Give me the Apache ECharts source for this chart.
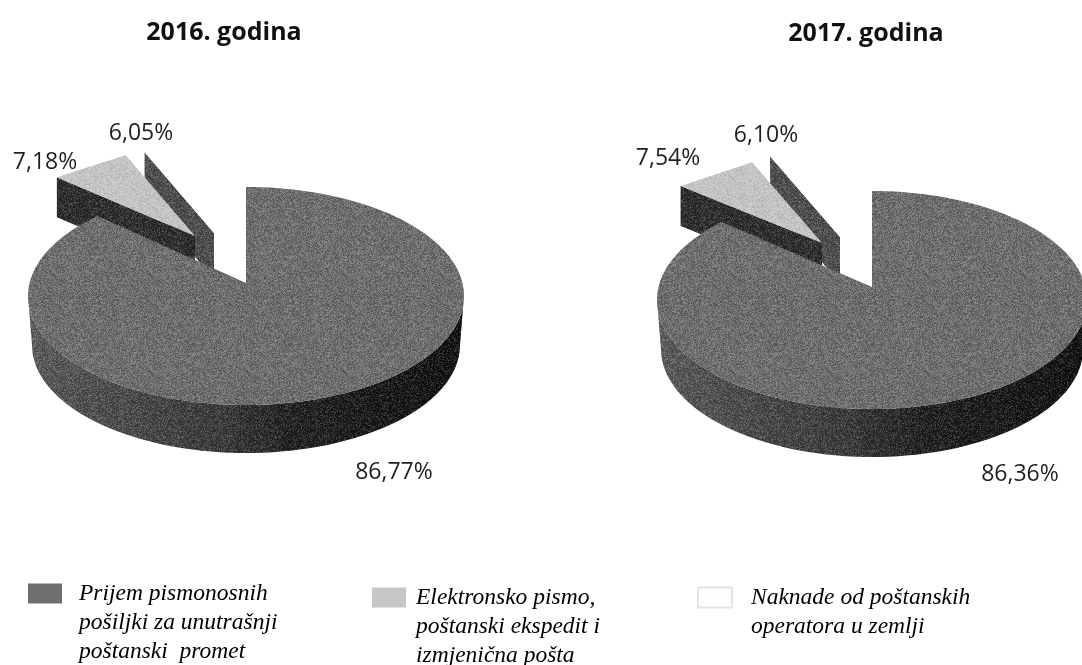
<!DOCTYPE html>
<html>
<head>
<meta charset="utf-8">
<style>
  html, body { margin: 0; padding: 0; background: #fff; }
  #chart { width: 1082px; height: 665px; }
</style>
<script src="https://cdn.jsdelivr.net/npm/echarts@6/dist/echarts.min.js"></script>
</head>
<body>
<div id="chart"></div>
<script>
const godine = ['2016. godina', '2017. godina'];
const kategorije = [
  'Prijem pismonosnih\npošiljki za unutrašnji\npoštanski  promet',
  'Elektronsko pismo,\npoštanski ekspedit i\nizmjenična pošta',
  'Naknade od poštanskih\noperatora u zemlji'
];
const prijem = [86.77, 86.36];
const elektronsko = [7.18, 7.54];
const naknade = [6.05, 6.10];

// geometrija tortica
const vrhX = [246, 872];
const vrhY = [283, 287];
const rx = [218, 215];
const PERSPEKTIVA = 4.8; // vrh je iznad sredine elipse pa rez ide malo dalje
const ODSJECAK = { rx: 187, ry: 87 };
const POMAK = { 1: [[-51, -47], [-50, -44]], 2: [[-32, -50], [-32, -50]] };
const LABELA = { 0: [[148, 189], [148, 187]], 1: [[-201, -121], [-204, -129]], 2: [[-105, -150], [-106, -152]] };

const kriske = [prijem, elektronsko, naknade];
const labelFont = '23px "Open Sans"';

// zrno skena, obicna ponovljena plocica preko povrsina
function napraviZrno() {
  const c = document.createElement('canvas');
  c.width = c.height = 97;
  const ctx = c.getContext('2d');
  for (let i = 0; i < 97; i++) {
    for (let j = 0; j < 97; j++) {
      const h = Math.abs(Math.sin(i * 12.9898 + j * 78.233) * 43758.5453) % 1;
      ctx.fillStyle = h > 0.5 ? 'rgba(255,255,255,' + (h - 0.5) * 0.42 + ')' : 'rgba(0,0,0,' + (0.5 - h) * 0.5 + ')';
      ctx.fillRect(i, j, 1, 1);
    }
  }
  return { image: c, repeat: 'repeat' };
}
const zrno = napraviZrno();

function tacka(cx, cy, a, b, stepeni) {
  const t = stepeni * Math.PI / 180;
  return [cx + a * Math.sin(t), cy - b * Math.cos(t)];
}

function luk(cx, cy, a, b, od, doo) {
  const pts = [];
  const n = Math.max(2, Math.ceil(Math.abs(doo - od) / 2));
  for (let i = 0; i <= n; i++) pts.push(tacka(cx, cy, a, b, od + (doo - od) * i / n));
  return pts;
}

function pocetak(k, g) {
  let s = 0;
  for (let i = 0; i < k; i++) s += kriske[i][g];
  return s * 3.6;
}

function tekst(g, k, x, y) {
  const v = kriske[k][g];
  return {
    type: 'text',
    style: {
      text: v.toFixed(2).replace('.', ',') + '%',
      x: x + LABELA[k][g][0],
      y: y + LABELA[k][g][1],
      align: 'center',
      verticalAlign: 'middle',
      font: labelFont,
      fill: '#1f1f1f'
    }
  };
}

function glavna(params) {
  const g = params.dataIndex;
  const x = vrhX[g], y = vrhY[g], a = rx[g];
  const kraj = pocetak(1, g) + PERSPEKTIVA;
  const gore = y + 13;
  const dole = y + 62;
  const omotac = luk(x, gore, a, 109, 90, 270).concat(luk(x, dole, a - 4, 108, 270, 90));
  const lice = [[x, y]].concat(luk(x, gore, a, 109, 0, kraj));
  return {
    type: 'group',
    children: [
      {
        type: 'polygon',
        shape: { points: omotac },
        style: {
          fill: new echarts.graphic.LinearGradient(0, 0, 1, 0, [
            { offset: 0, color: '#5a5a5a' },
            { offset: 0.45, color: '#363636' },
            { offset: 0.6, color: '#1e1e1e' },
            { offset: 1, color: '#0c0c0c' }
          ])
        }
      },
      { type: 'polygon', shape: { points: omotac }, style: { fill: zrno } },
      { type: 'polygon', shape: { points: lice }, style: { fill: '#6e6e6e' } },
      { type: 'polygon', shape: { points: lice }, style: { fill: zrno } },
      tekst(g, 0, x, y)
    ]
  };
}

function izdvojena(k, boja, bojaZida, dubina, zrnoLice) {
  return function (params) {
    const g = params.dataIndex;
    const x = vrhX[g] + POMAK[k][g][0];
    const y = vrhY[g] + POMAK[k][g][1];
    const od = pocetak(k, g);
    const doo = od + kriske[k][g] * 3.6;
    const van = tacka(x, y, ODSJECAK.rx, ODSJECAK.ry, od);
    const zid = [[x, y], van, [van[0], van[1] + dubina], [x, y + dubina]];
    const lice = [[x, y], van, tacka(x, y, ODSJECAK.rx, ODSJECAK.ry, doo)];
    const djeca = [
      { type: 'polygon', shape: { points: zid }, style: { fill: bojaZida } },
      { type: 'polygon', shape: { points: zid }, style: { fill: zrno } },
      { type: 'polygon', shape: { points: lice }, style: { fill: boja } }
    ];
    if (zrnoLice) djeca.push({ type: 'polygon', shape: { points: lice }, style: { fill: zrno, opacity: 0.5 } });
    djeca.push(tekst(g, k, vrhX[g], vrhY[g]));
    return { type: 'group', children: djeca };
  };
}

const naslovi = godine.map(function (t, i) {
  return {
    text: t,
    left: [224, 866][i],
    top: [20, 21][i],
    padding: 0,
    textAlign: 'center',
    textStyle: { fontFamily: 'Open Sans', fontWeight: 'bold', fontSize: 25, color: '#111' }
  };
});

// prazni redovi ispred imena drze ikonu u visini prvog reda teksta
function legenda(ime, lijevo, gore, uvlaka, prazno) {
  return {
    data: [ime],
    left: lijevo,
    top: gore,
    padding: 0,
    icon: 'rect',
    itemWidth: 34,
    itemHeight: 20,
    itemGap: 0,
    selectedMode: false,
    formatter: function (n) { return prazno + n; },
    textStyle: {
      fontFamily: 'Liberation Serif',
      fontStyle: 'italic',
      fontSize: 23.5,
      lineHeight: 29,
      color: '#000',
      padding: [0, 0, 0, uvlaka]
    }
  };
}

const chart = echarts.init(document.getElementById('chart'));
chart.setOption({
  backgroundColor: '#fff',
  animation: false,
  title: naslovi,
  legend: [
    legenda(kategorije[0], 28, 521, 12, '\n\n'),
    legenda(kategorije[1], 372, 525, 5, '\n\n'),
    legenda(kategorije[2], 697, 554, 14, '\n')
  ],
  series: [
    {
      name: kategorije[2],
      type: 'custom',
      coordinateSystem: 'none',
      itemStyle: { color: '#fdfdfd', borderColor: '#e4e4e4', borderWidth: 1 },
      renderItem: izdvojena(2, '#ffffff', '#4c4c4c', 46, false),
      data: naknade
    },
    {
      name: kategorije[1],
      type: 'custom',
      coordinateSystem: 'none',
      itemStyle: { color: '#c6c6c6' },
      renderItem: izdvojena(1, '#c9c9c9', '#2a2a2a', 40, true),
      data: elektronsko
    },
    {
      name: kategorije[0],
      type: 'custom',
      coordinateSystem: 'none',
      itemStyle: { color: '#707070' },
      renderItem: glavna,
      data: prijem
    }
  ]
});
</script>
</body>
</html>
